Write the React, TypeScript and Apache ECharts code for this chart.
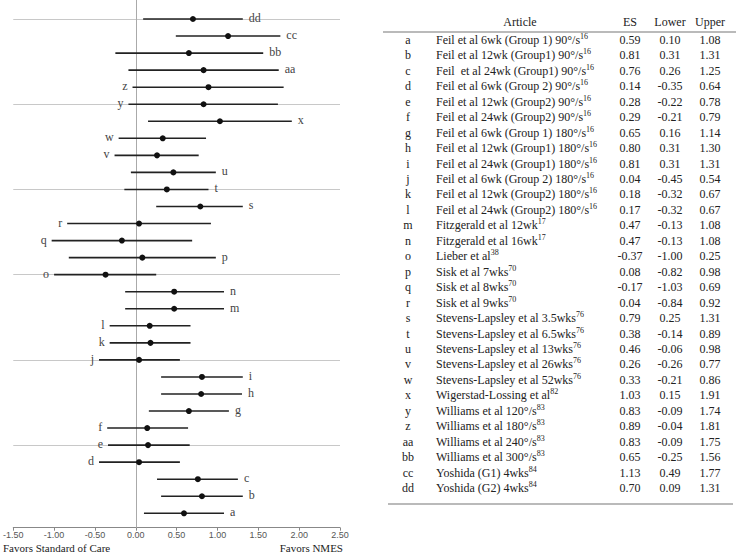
import React, { useEffect, useRef } from "react";
import * as echarts from "echarts";

const rowLetters = ["a","b","c","d","e","f","g","h","i","j","k","l","m","n","o","p","q","r","s","t","u","v","w","x","y","z","aa","bb","cc","dd"];

// values as drawn in the forest plot
const plotEs = [0.59,0.81,0.76,0.04,0.15,0.14,0.65,0.80,0.81,0.04,0.18,0.17,0.47,0.47,-0.37,0.08,-0.17,0.04,0.79,0.38,0.46,0.26,0.33,1.03,0.83,0.89,0.83,0.65,1.13,0.70];
const plotLower = [0.10,0.31,0.26,-0.45,-0.34,-0.35,0.16,0.31,0.31,-0.45,-0.32,-0.32,-0.13,-0.13,-1.00,-0.82,-1.03,-0.84,0.25,-0.14,-0.06,-0.26,-0.21,0.15,-0.09,-0.04,-0.09,-0.25,0.49,0.09];
const plotUpper = [1.08,1.31,1.25,0.54,0.66,0.64,1.14,1.30,1.31,0.54,0.67,0.67,1.08,1.08,0.25,0.98,0.69,0.92,1.31,0.89,0.98,0.77,0.86,1.91,1.74,1.81,1.75,1.56,1.77,1.31];
const labelSide = ["R","R","R","L","L","L","R","R","R","L","L","L","R","R","L","R","L","L","R","R","R","L","L","R","L","L","R","R","R","R"];

// table values
const articles = [
  "Feil et al 6wk (Group 1) 90°/s","Feil et al 12wk (Group1) 90°/s","Feil  et al 24wk (Group1) 90°/s",
  "Feil et al 6wk (Group 2) 90°/s","Feil et al 12wk (Group2) 90°/s","Feil et al 24wk (Group2) 90°/s",
  "Feil et al 6wk (Group 1) 180°/s","Feil et al 12wk (Group1) 180°/s","Feil et al 24wk (Group1) 180°/s",
  "Feil et al 6wk (Group 2) 180°/s","Feil et al 12wk (Group2) 180°/s","Feil et al 24wk (Group2) 180°/s",
  "Fitzgerald et al 12wk","Fitzgerald et al 16wk","Lieber et al","Sisk et al 7wks","Sisk et al 8wks","Sisk et al 9wks",
  "Stevens-Lapsley et al 3.5wks","Stevens-Lapsley et al 6.5wks","Stevens-Lapsley et al 13wks","Stevens-Lapsley et al 26wks",
  "Stevens-Lapsley et al 52wks","Wigerstad-Lossing et al","Williams et al 120°/s","Williams et al 180°/s",
  "Williams et al 240°/s","Williams et al 300°/s","Yoshida (G1) 4wks","Yoshida (G2) 4wks"
];
const refs = ["16","16","16","16","16","16","16","16","16","16","16","16","17","17","38","70","70","70","76","76","76","76","76","82","83","83","83","83","84","84"];
const tableEs = [0.59,0.81,0.76,0.14,0.28,0.29,0.65,0.80,0.81,0.04,0.18,0.17,0.47,0.47,-0.37,0.08,-0.17,0.04,0.79,0.38,0.46,0.26,0.33,1.03,0.83,0.89,0.83,0.65,1.13,0.70];
const tableLower = [0.10,0.31,0.26,-0.35,-0.22,-0.21,0.16,0.31,0.31,-0.45,-0.32,-0.32,-0.13,-0.13,-1.00,-0.82,-1.03,-0.84,0.25,-0.14,-0.06,-0.26,-0.21,0.15,-0.09,-0.04,-0.09,-0.25,0.49,0.09];
const tableUpper = [1.08,1.31,1.25,0.64,0.78,0.79,1.14,1.30,1.31,0.54,0.67,0.67,1.08,1.08,0.25,0.98,0.69,0.92,1.31,0.89,0.98,0.77,0.86,1.91,1.74,1.81,1.75,1.56,1.77,1.31];
const tableHeaders = ["Article","ES","Lower","Upper"];
const xTickMin = -1.5;
const xTickMax = 2.5;
const xTickStep = 0.5;
const gridRows = [5,10,15,20,25,30];
const leftCaption = "Favors Standard of Care";
const rightCaption = "Favors NMES";

const SERIF = "serif";

export default function App() {
  const ref = useRef<HTMLDivElement>(null);
  useEffect(() => {
    if (!ref.current) return;
    const chart = echarts.init(ref.current, null, { renderer: "svg" });

    const data = rowLetters.map((l, i) => [plotLower[i], plotUpper[i], plotEs[i], i + 1, labelSide[i] === "L" ? 0 : 1]);

    const tableTop = 40;
    const rowH = (488 - 40) / 29;
    const tableEls: any[] = [];
    const headerY = 22;
    const hdrX = [520, 630, 670, 710];
    const txt = (x: number, y: number, text: string, align: string, size = 12) => ({
      type: "text", x, y,
      style: { text, fontFamily: SERIF, fontSize: size, fill: "#222", align, verticalAlign: "middle" },
    });
    tableHeaders.forEach((h, k) => tableEls.push(txt(hdrX[k], headerY, h, "center")));
    tableEls.push({ type: "line", shape: { x1: 383, y1: 32, x2: 736, y2: 32 }, style: { stroke: "#777", lineWidth: 1.2 } });
    tableEls.push({ type: "line", shape: { x1: 388, y1: 504, x2: 733, y2: 504 }, style: { stroke: "#777", lineWidth: 1.2 } });
    rowLetters.forEach((l, i) => {
      const y = tableTop + i * rowH;
      tableEls.push(txt(408, y, l, "center"));
      tableEls.push({
        type: "text", x: 436, y,
        style: {
          text: `{b|${articles[i]}}{s|${refs[i]}}`,
          align: "left", verticalAlign: "middle", fill: "#222",
          fontFamily: SERIF, fontSize: 12,
          rich: {
            b: { fontSize: 12, fontFamily: SERIF, fill: "#222", lineHeight: 15 },
            s: { fontSize: 8, fontFamily: SERIF, fill: "#222", lineHeight: 8, verticalAlign: "top" },
          },
        },
      });
      const vals = [tableEs[i], tableLower[i], tableUpper[i]];
      vals.forEach((v, k) => tableEls.push(txt(hdrX[k + 1], y, v.toFixed(2), "center")));
    });

    const option: any = {
      animation: false,
      textStyle: { fontFamily: SERIF },
      grid: { left: 11.7, right: 396, top: 0, bottom: 27.3, containLabel: false },
      xAxis: {
        type: "value", min: xTickMin, max: xTickMax, interval: xTickStep,
        axisLine: { show: true, lineStyle: { color: "#888", width: 1 } },
        axisTick: { show: true, length: 3, lineStyle: { color: "#888" } },
        axisLabel: { formatter: (v: number) => v.toFixed(2), fontSize: 9, color: "#555", margin: 3, fontFamily: "sans-serif" },
        splitLine: { show: false },
      },
      yAxis: { type: "value", min: 0.155, max: 31.115, show: false, splitLine: { show: false } },
      graphic: [
        txt(3, 548, leftCaption, "left", 11),
        txt(343, 548, rightCaption, "right", 11),
        ...tableEls,
      ],
      series: [
        {
          type: "custom",
          data,
          encode: { x: [0, 1, 2], y: 3 },
          markLine: {
            silent: true, symbol: "none", label: { show: false },
            data: [
              ...gridRows.map((r) => ({ yAxis: r, lineStyle: { color: "#c8c8c8", width: 1, type: "solid" } })),
              { xAxis: 0, lineStyle: { color: "#aaa", width: 1, type: "solid" } },
            ],
          },
          z: 5,
          renderItem: (params: any, api: any) => {
            const lo = api.value(0), hi = api.value(1), es = api.value(2), yv = api.value(3), side = api.value(4);
            const p1 = api.coord([lo, yv]);
            const p2 = api.coord([hi, yv]);
            const pc = api.coord([es, yv]);
            const lbl = rowLetters[params.dataIndex];
            return {
              type: "group",
              children: [
                { type: "line", shape: { x1: p1[0], y1: p1[1], x2: p2[0], y2: p2[1] }, style: { stroke: "#222", lineWidth: 1.6 } },
                { type: "circle", shape: { cx: pc[0], cy: pc[1], r: 3 }, style: { fill: "#111" } },
                {
                  type: "text",
                  x: side === 1 ? p2[0] + 6 : p1[0] - 5,
                  y: p1[1] - 1,
                  style: {
                    text: lbl,
                    align: side === 1 ? "left" : "right",
                    verticalAlign: "middle",
                    fontFamily: SERIF,
                    fontSize: 12,
                    fill: "#444",
                  },
                },
              ],
            };
          },
        },
      ],
    };
    chart.setOption(option);
    return () => chart.dispose();
  }, []);
  return <div ref={ref} style={{ position: "fixed", left: 0, top: 0, width: 736, height: 555, background: "#fff" }} />;
}
